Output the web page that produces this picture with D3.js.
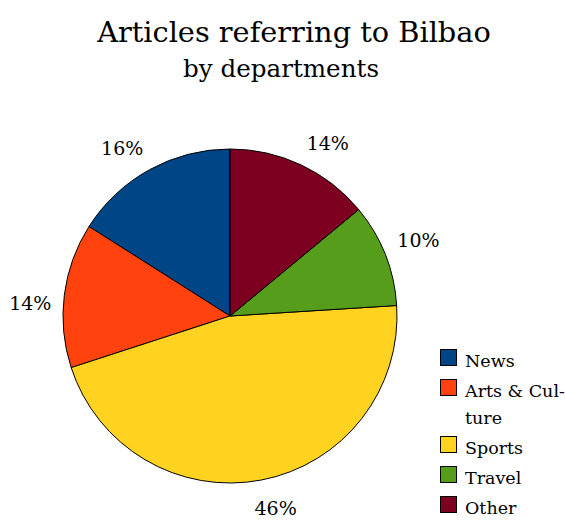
<!DOCTYPE html>
<html><head><meta charset="utf-8">
<script src="https://cdn.jsdelivr.net/npm/d3@7"></script>
<style>html,body{margin:0;padding:0;background:#fff;}svg{display:block;}</style>
</head><body>
<svg id="chart" width="566" height="520"></svg>
<script>
const categories = ["News", "Arts & Culture", "Sports", "Travel", "Other"];
const values = [16, 14, 46, 10, 14];
const legendLines = [["News"], ["Arts & Cul-", "ture"], ["Sports"], ["Travel"], ["Other"]];
const colors = ["#004586", "#ff420e", "#ffd320", "#579d1c", "#7e0021"];
const titleText = "Articles referring to Bilbao";
const subtitleText = "by departments";

const svg = d3.select("#chart");
const font = "'DejaVu Serif', serif";
const cx = 230, cy = 316, r = 167;

svg.append("text").attr("x", 294).attr("y", 42).attr("text-anchor", "middle")
  .style("font-family", font).style("font-size", "28.8px").attr("fill", "#000").text(titleText);
svg.append("text").attr("x", 281).attr("y", 77).attr("text-anchor", "middle")
  .style("font-family", font).style("font-size", "24.6px").attr("fill", "#000").text(subtitleText);

const total = d3.sum(values);
const pie = d3.pie().sort(null).value(d => d).startAngle(0).endAngle(-2 * Math.PI);
const arcs = pie(values);
const arc = d3.arc().innerRadius(0).outerRadius(r);
const color = d3.scaleOrdinal().domain(categories).range(colors);

const g = svg.append("g").attr("transform", `translate(${cx},${cy})`);
g.selectAll("path").data(arcs).enter().append("path")
  .attr("d", arc)
  .attr("fill", (d, i) => color(categories[i]))
  .attr("stroke", "#000").attr("stroke-width", 1).attr("stroke-linejoin", "round");

const fmt = d3.format(".0%");
const R = 180;
arcs.forEach((d, i) => {
  const th = (d.startAngle + d.endAngle) / 2;
  const s = Math.sin(th), c = Math.cos(th);
  const px = R * s, py = -R * c;
  const t = g.append("text").style("font-family", font).style("font-size", "19px")
    .attr("fill", "#000").text(fmt(values[i] / total));
  const w = t.node().getBBox().width;
  const kx = Math.max(-1, Math.min(1, s * 3));
  let ccy;
  if (c > 0.3) ccy = py - 10;          // above: box bottom at anchor
  else if (c < -0.3) ccy = py + 15;    // below: box top at anchor
  else ccy = py + 10;                  // side: box top at anchor
  t.attr("x", px + kx * w / 2).attr("y", ccy).attr("text-anchor", "middle").attr("dy", "0.36em");
});

// legend
const lg = svg.append("g");
let y = 349;
legendLines.forEach((lines, i) => {
  lg.append("rect").attr("x", 440.5).attr("y", y + 0.5).attr("width", 16).attr("height", 16)
    .attr("fill", color(categories[i])).attr("stroke", "#000").attr("stroke-width", 1);
  const t = lg.append("text").style("font-family", font).style("font-size", "17.5px").attr("fill", "#000");
  lines.forEach((ln, j) => {
    t.append("tspan").attr("x", 465).attr("y", y + 18 + j * 27).text(ln);
  });
  y += 30 + (lines.length - 1) * 27;
});
</script>
</body></html>
